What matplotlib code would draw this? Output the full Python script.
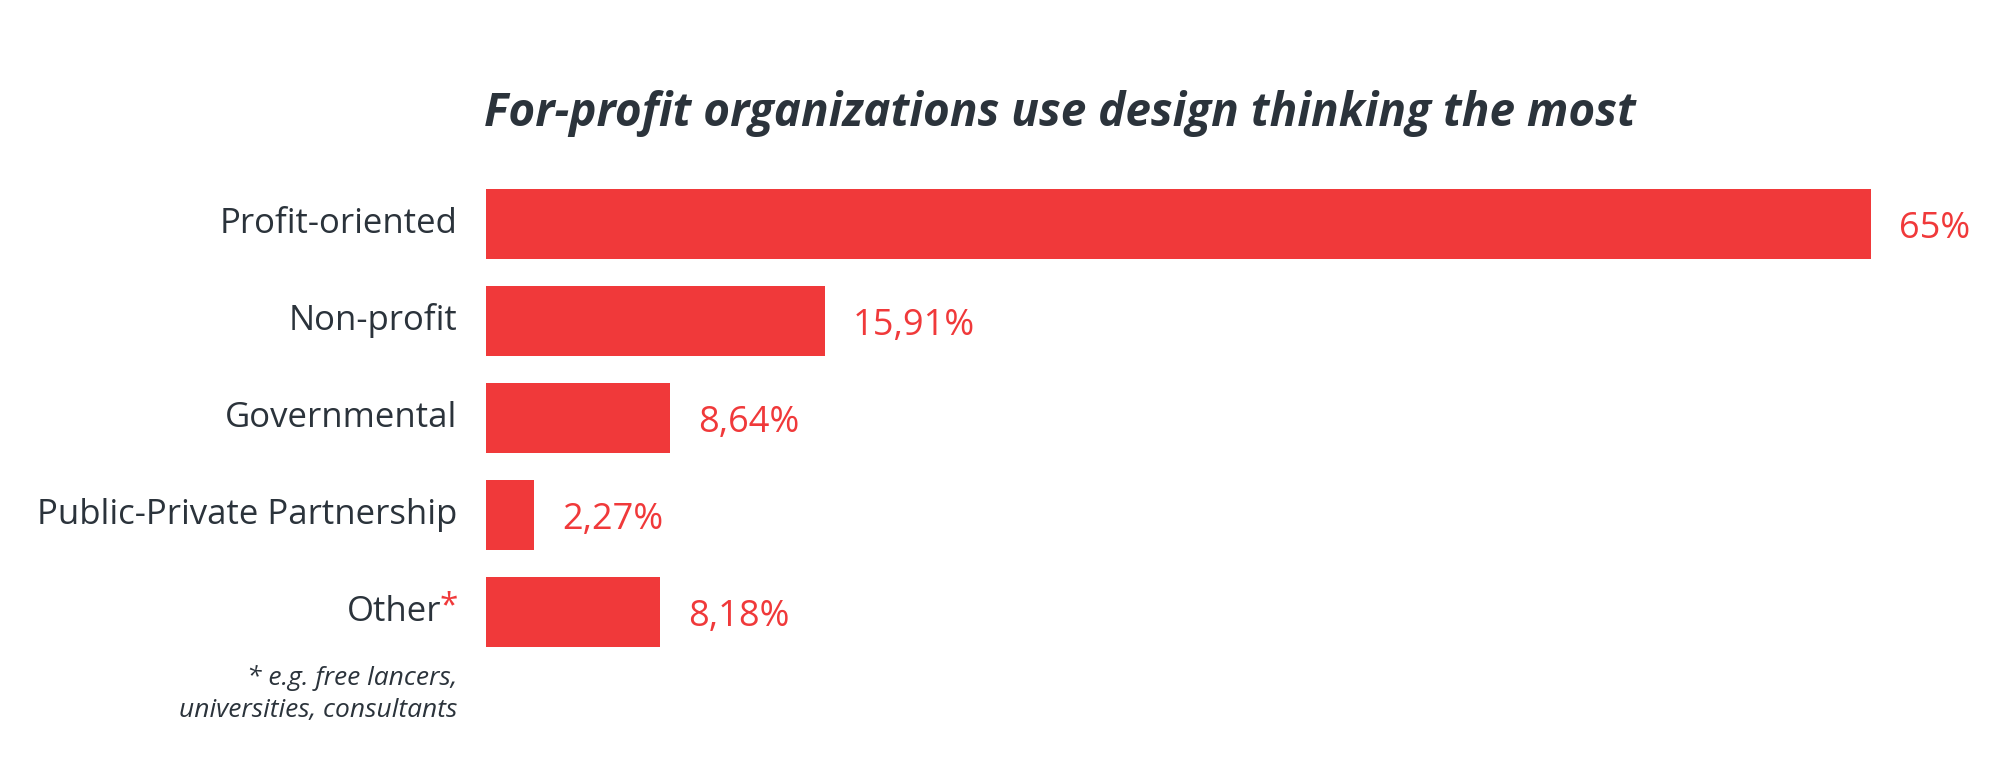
import matplotlib.pyplot as plt

plt.rcParams['font.family'] = ['Open Sans', 'DejaVu Sans']

categories = ["Profit-oriented", "Non-profit", "Governmental", "Public-Private Partnership", "Other"]
values = [65, 15.91, 8.64, 2.27, 8.18]
valueLabels = ["65%", "15,91%", "8,64%", "2,27%", "8,18%"]

red = "#F0393A"
dark = "#2B333B"

fig = plt.figure(figsize=(20.16, 7.84), dpi=100)
ax = fig.add_axes([0.241, 0.175, 0.687, 0.584])

ax.barh(range(len(values)), values, height=0.72, color=red)
ax.set_xlim(0, 65)
ax.set_ylim(4.36, -0.36)
for side in ax.spines.values():
    side.set_visible(False)
ax.set_xticks([])
ax.set_yticks([])

for i, (v, lab) in enumerate(zip(values, valueLabels)):
    ax.text(v + 1.3, i + 0.05, lab, color=red, fontsize=26, va='center', ha='left')

for i, cat in enumerate(categories):
    if cat == "Other":
        ax.text(-1.3, i - 0.05, "*", color=red, fontsize=24, va='center', ha='right')
        ax.text(-2.1, i, cat, color=dark, fontsize=25, va='center', ha='right')
    else:
        ax.text(-1.35, i, cat, color=dark, fontsize=25, va='center', ha='right')

ax.text(-1.35, 4.55, "* e.g. free lancers,\nuniversities, consultants", color=dark,
        fontsize=19, style='italic', va='top', ha='right', linespacing=1.35)

fig.text(0.240, 0.855, "For-profit organizations use design thinking the most",
         color=dark, fontsize=33, fontweight='bold', style='italic', va='center', ha='left')

fig.savefig("out.png", dpi=100, facecolor='white')
